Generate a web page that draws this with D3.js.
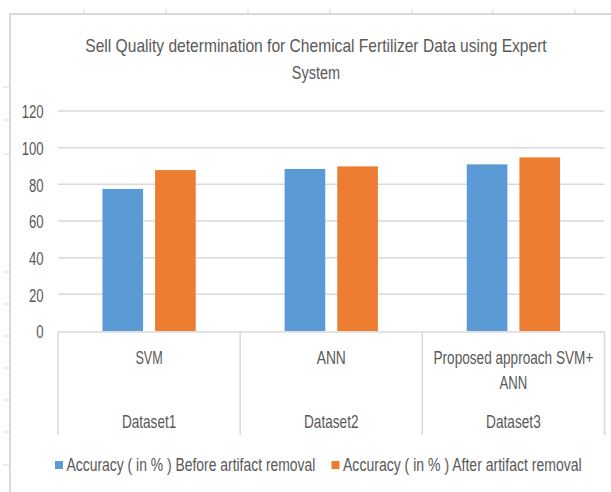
<!DOCTYPE html>
<html><head><meta charset="utf-8">
<script src="https://cdn.jsdelivr.net/npm/d3@7"></script>
<style>body{margin:0;background:#fff;}svg{display:block;}</style>
</head><body>
<script>
// ---- data ----
const titleLines = ["Sell Quality determination for Chemical Fertilizer Data using Expert", "System"];
const methods = [["SVM"], ["ANN"], ["Proposed approach SVM+", "ANN"]];
const datasets = ["Dataset1", "Dataset2", "Dataset3"];
const seriesNames = ["Accuracy ( in % ) Before artifact removal", "Accuracy ( in % ) After artifact removal"];
const beforeValues = [77.5, 88.4, 90.9];
const afterValues = [87.8, 89.8, 94.7];
const yTicks = [0, 20, 40, 60, 80, 100, 120];
const colors = ["#5B9BD5", "#ED7D31"];

// ---- layout / style (rendered text widths of the condensed original font) ----
const W = 611, H = 492;
const FONT = "'Liberation Sans', Arial, sans-serif";
const FS = 18.5, TXT = "#595959", GRID = "#d9d9d9";
const textWidths = {
  title: [461.7, 48.3],
  methods: [[27.3], [29.2], [160, 27.7]],
  datasets: [54.3, 54.6, 54.7],
  legend: [249, 239],
  digit: 7.3
};

const svg = d3.select("body").append("svg").attr("width", W).attr("height", H);

// text drawn in a regular font, horizontally condensed to the original's width
function label(g, x, y, str, anchor, width) {
  const t = g.append("text")
    .attr("text-anchor", anchor || "middle")
    .attr("dy", "0.35em")
    .attr("font-family", FONT).attr("font-size", FS).attr("fill", TXT)
    .text(str);
  const natural = t.node().getComputedTextLength() || width;
  const sx = width / natural;
  t.attr("transform", `translate(${x},${y}) scale(${sx},1)`);
  return t;
}

// spreadsheet remnants outside the chart frame
const topTicks = [84, 166, 248, 330, 412, 493, 575];
svg.selectAll(".tt").data(topTicks).enter().append("line")
  .attr("x1", d => d).attr("x2", d => d).attr("y1", 9).attr("y2", 14)
  .attr("stroke", GRID).attr("stroke-width", 1);
const leftTicks = [87, 120, 154, 272, 304, 336, 368, 400, 432, 465];
svg.selectAll(".lt").data(leftTicks).enter().append("line")
  .attr("x1", 3).attr("x2", 9).attr("y1", d => d).attr("y2", d => d)
  .attr("stroke", GRID).attr("stroke-width", 1);

// chart frame
svg.append("path").attr("d", `M10,${H} L10,14 L${W},14`)
  .attr("fill", "none").attr("stroke", GRID).attr("stroke-width", 2);

// title
titleLines.forEach((t, i) => label(svg, 316, 46 + i * 27, t, "middle", textWidths.title[i]));

// scales
const plotL = 58, plotR = 604.5, y0 = 331, yTop = 111;
const y = d3.scaleLinear().domain([0, 120]).range([y0, yTop]);
const x0 = d3.scaleBand().domain(datasets).range([plotL, plotR]).padding(0);
const x1 = d3.scaleBand().domain([0, 1]).range([0, x0.bandwidth()])
  .paddingInner(0.228).paddingOuter(0.844);

// gridlines
svg.append("g").selectAll("line").data(yTicks.filter(d => d > 0)).enter().append("line")
  .attr("x1", plotL).attr("x2", plotR).attr("y1", d => y(d)).attr("y2", d => y(d))
  .attr("stroke", GRID).attr("stroke-width", 1.5);

// y labels
const yl = svg.append("g");
yTicks.forEach(t => label(yl, 43.5, y(t) + 1, String(t), "end", String(t).length * textWidths.digit));

// bars
const rows = datasets.map((d, i) => ({ d, vals: [beforeValues[i], afterValues[i]] }));
const grp = svg.append("g").selectAll("g").data(rows).enter().append("g")
  .attr("transform", r => `translate(${x0(r.d)},0)`);
grp.selectAll("rect").data(r => r.vals.map((v, k) => ({ v, k }))).enter().append("rect")
  .attr("x", d => x1(d.k)).attr("width", x1.bandwidth())
  .attr("y", d => y(d.v)).attr("height", d => y0 - y(d.v))
  .attr("fill", d => colors[d.k]);

// category axis (multi-level)
const ax = svg.append("g");
ax.append("line").attr("x1", plotL).attr("x2", plotR).attr("y1", y0 + 1).attr("y2", y0 + 1)
  .attr("stroke", GRID).attr("stroke-width", 1.5);
const edges = datasets.map(d => x0(d)).concat([x0(datasets[datasets.length - 1]) + x0.bandwidth()]);
ax.selectAll(".edge").data(edges).enter().append("line")
  .attr("x1", d => d).attr("x2", d => d).attr("y1", y0 + 1).attr("y2", 435)
  .attr("stroke", GRID).attr("stroke-width", 1.5);
datasets.forEach((d, i) => {
  const cx = x0(d) + x0.bandwidth() / 2;
  methods[i].forEach((ln, j) => label(ax, cx, 358 + j * 24.7, ln, "middle", textWidths.methods[i][j]));
  label(ax, cx, 421.7, d, "middle", textWidths.datasets[i]);
});

// legend
const lg = svg.append("g");
const legX = [55, 331.5];
seriesNames.forEach((s, i) => {
  lg.append("rect").attr("x", legX[i]).attr("y", 461).attr("width", 8).attr("height", 8).attr("fill", colors[i]);
  label(lg, legX[i] + 11.5, 465, s, "start", textWidths.legend[i]);
});
</script>
</body></html>
